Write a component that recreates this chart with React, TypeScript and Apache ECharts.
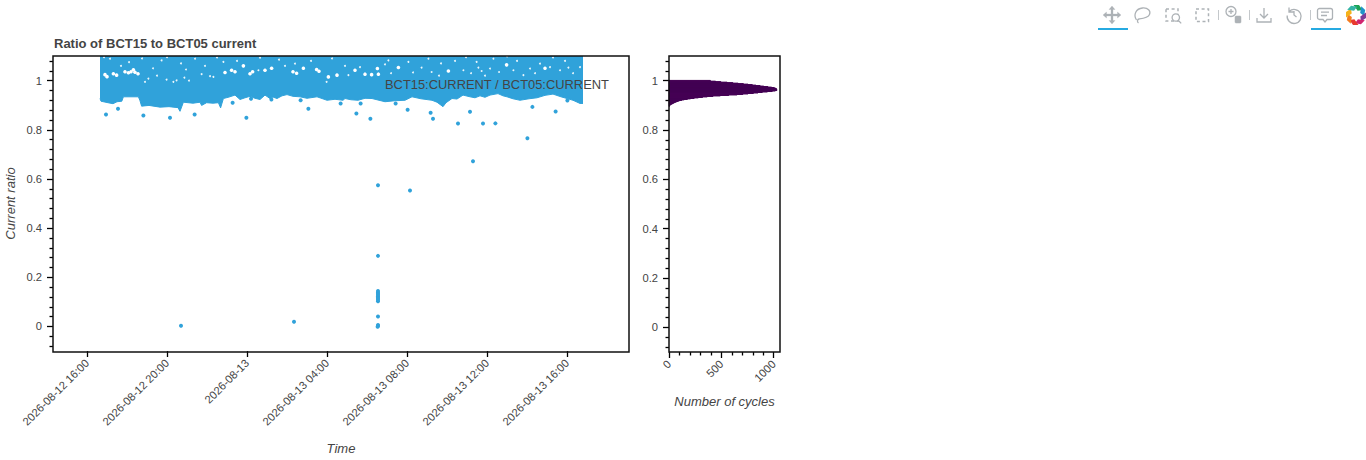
import React, { useEffect, useRef } from "react";
import * as echarts from "echarts";

// x values are hours since 2026-08-12 00:00
const timeTicks = [16, 20, 24, 28, 32, 36, 40];
const timeTickLabels = [
  "2026-08-12 16:00", "2026-08-12 20:00", "2026-08-13", "2026-08-13 04:00",
  "2026-08-13 08:00", "2026-08-13 12:00", "2026-08-13 16:00",
];
const ratioTicks = [0, 0.2, 0.4, 0.6, 0.8, 1];
const ratioMinorTicks = [-0.08, -0.04, 0.04, 0.08, 0.12, 0.16, 0.24, 0.28, 0.32, 0.36, 0.44, 0.48, 0.52, 0.56, 0.64, 0.68, 0.72, 0.76, 0.84, 0.88, 0.92, 0.96, 1.04, 1.08];
const cycleTicks = [0, 500, 1000];
const cycleMinorTicks = [100, 200, 300, 400, 600, 700, 800, 900];

// lower edge of the dense cloud of points: [hour, ratio]
const cloudLowerEdge = [
  [16.65, 0.927], [16.7, 0.916], [17.05, 0.91], [17.3, 0.906], [17.5, 0.914], [17.74, 0.916], [17.82, 0.934], [18.57, 0.934], [18.65, 0.918], [18.73, 0.896], [19.1, 0.899], [19.65, 0.892],
  [20.1, 0.894], [20.55, 0.89], [20.65, 0.875], [20.82, 0.912], [21.3, 0.908], [21.65, 0.912], [21.73, 0.899], [21.98, 0.91], [22.3, 0.908], [22.57, 0.91],
  [22.68, 0.889], [22.82, 0.927], [23.1, 0.933], [23.4, 0.941], [23.65, 0.923], [23.9, 0.93], [24.15, 0.936], [24.4, 0.928], [24.65, 0.923], [24.9, 0.941],
  [25.15, 0.927], [25.3, 0.933], [25.5, 0.927], [25.75, 0.938], [26, 0.943], [26.3, 0.936], [26.65, 0.934], [27, 0.928], [27.5, 0.934], [28, 0.92], [28.4, 0.924], [28.8, 0.92], [28.9, 0.927],
  [29.2, 0.922], [29.55, 0.92], [29.9, 0.928], [30.25, 0.927], [30.6, 0.92], [30.9, 0.914], [31.4, 0.918], [31.9, 0.92], [32.25, 0.934], [32.7, 0.926], [33.25, 0.92], [33.5, 0.912], [33.8, 0.894], [33.95, 0.91],
  [34.25, 0.927], [34.5, 0.925], [34.8, 0.941], [35.15, 0.934], [35.4, 0.93], [35.65, 0.938], [35.9, 0.932], [36.15, 0.941], [36.55, 0.947], [36.8, 0.938], [37, 0.934], [37.3, 0.926],
  [37.65, 0.92], [38.1, 0.926], [38.5, 0.93], [38.9, 0.94], [39.3, 0.945], [39.7, 0.934], [40, 0.927], [40.3, 0.92], [40.65, 0.907], [40.8, 0.907],
];

// larger holes in the cloud, where several points are missing: [hour, ratio]
const cloudHoles = [
  [16.9, 1.024], [17.0, 1.016], [17.32, 1.028], [17.48, 1.022], [17.9, 1.036], [18.07, 1.032], [18.2, 1.036], [18.32, 1.044], [18.4, 1.034], [18.55, 1.028],
  [23.23, 1.042], [23.4, 1.036], [22.9, 1.033], [23.82, 1.06], [24.15, 1.028], [24.28, 1.036], [24.9, 1.042], [25.23, 1.05],
  [26.3, 1.036], [26.48, 1.03], [26.82, 1.05], [27.48, 1.045], [27.6, 1.038], [28.07, 1.015], [28.5, 1.022],
  [29.4, 1.042], [29.9, 1.026], [30.23, 1.024], [30.52, 1.049], [30.57, 1.026], [31.57, 1.053], [34.07, 1.039],
  [36.98, 1.064], [38.9, 1.05],
];

// small holes between single points: [hour, ratio]
const cloudGaps = [
  [19.07, 1.008], [19.98, 1.004], [20.48, 1.001], [20.87, 1.012], [21.73, 1.026], [22.15, 1.018], [22.32, 1.015], [17.15, 1.089], [19.73, 1.082], [21.4, 1.089],
  [18.9, 0.995], [20.32, 0.995], [24.57, 1.042], [26.4, 1.069], [24.65, 1.093], [22.82, 1.076], [27.98, 0.995], [29.07, 1.022], [32.73, 1.053], [33.07, 1.089],
  [32.07, 1.076], [34.82, 1.042], [31.07, 1.082], [29.65, 1.055], [33.23, 1.035], [35.57, 1.053], [35.73, 1.039], [36.15, 1.049], [37.32, 1.042], [38.15, 1.049],
  [39.15, 1.055], [40.07, 1.053], [39.65, 1.042], [40.65, 1.055], [35.48, 1.076], [36.32, 1.089], [37.82, 1.022], [38.65, 1.069], [18.1, 1.075], [20.7, 1.07],
  [21.9, 1.06], [25.6, 1.085], [27.2, 1.08], [30.9, 1.066], [33.7, 1.07], [34.4, 1.08], [37.5, 1.08], [39.9, 1.08], [16.85, 1.095], [17.7, 1.06], [18.75, 1.09],
  [19.3, 1.05], [20.0, 1.095], [20.95, 1.045], [22.5, 1.094], [23.5, 1.08], [25.9, 1.06], [28.25, 1.09], [28.9, 1.06], [31.2, 1.03], [32.3, 1.033], [33.6, 1.02],
  [34.95, 1.095], [35.9, 1.02], [36.6, 1.035], [37.0, 1.098], [38.4, 1.03], [39.3, 1.094], [40.3, 1.03], [19.5, 1.02], [21.1, 1.0], [35.2, 1.03],
];

// isolated points below the cloud: [hour, ratio]
const outliers = [
  [16.95, 0.862], [17.55, 0.885], [18.82, 0.858], [20.15, 0.849], [21.38, 0.862], [23.28, 0.91], [23.97, 0.849], [24.2, 0.926],
  [25.22, 0.923], [26.68, 0.92], [27.07, 0.885], [28.68, 0.907], [29.68, 0.907], [29.47, 0.866], [30.17, 0.845], [31.43, 0.907],
  [32.03, 0.881], [33.18, 0.869], [33.3, 0.845], [34.55, 0.825], [35.15, 0.873], [35.8, 0.825], [36.42, 0.826], [38.27, 0.893],
  [39.43, 0.874], [38.02, 0.765], [40.02, 0.919], [35.3, 0.672], [30.55, 0.574], [32.15, 0.553], [30.55, 0.287],
  [30.55, 0.102], [30.55, 0.108], [30.55, 0.113], [30.55, 0.118], [30.55, 0.123], [30.55, 0.128], [30.55, 0.133], [30.55, 0.138], [30.55, 0.144],
  [30.55, 0.04], [30.55, 0.006], [30.55, 0.002], [30.53, -0.001], [20.7, 0.003], [26.35, 0.019],
];

// histogram: [bin start, bin end, cycles]
const histogramBins = [
  [0.896, 0.898, 3], [0.898, 0.9, 7], [0.9, 0.902, 10], [0.902, 0.904, 16], [0.904, 0.906, 24], [0.906, 0.908, 35], [0.908, 0.91, 42], [0.91, 0.912, 52],
  [0.912, 0.914, 62], [0.914, 0.916, 75], [0.916, 0.918, 88], [0.918, 0.92, 100], [0.92, 0.922, 122], [0.922, 0.924, 145], [0.924, 0.926, 175], [0.926, 0.928, 205],
  [0.928, 0.93, 240], [0.93, 0.932, 280], [0.932, 0.934, 320], [0.934, 0.936, 365], [0.936, 0.938, 420], [0.938, 0.94, 490], [0.94, 0.942, 570], [0.942, 0.944, 650],
  [0.944, 0.946, 705], [0.946, 0.948, 755], [0.948, 0.95, 805], [0.95, 0.952, 850], [0.952, 0.954, 890], [0.954, 0.956, 940], [0.956, 0.958, 985], [0.958, 0.96, 1015],
  [0.96, 0.962, 1030], [0.962, 0.964, 1028], [0.964, 0.966, 1030], [0.966, 0.968, 1025], [0.968, 0.97, 1018], [0.97, 0.972, 1005], [0.972, 0.974, 980], [0.974, 0.976, 945],
  [0.976, 0.978, 905], [0.978, 0.98, 870], [0.98, 0.982, 830], [0.982, 0.984, 795], [0.984, 0.986, 755], [0.986, 0.988, 710], [0.988, 0.99, 660], [0.99, 0.992, 610],
  [0.992, 0.994, 555], [0.994, 0.996, 495], [0.996, 0.998, 445], [0.998, 1.001, 395],
];

const BLUE = "#30a2da";
const PURPLE = "#440154";
const TEXT = "#444444";
const ICON = "#adb2b6";
const FONT = '"Liberation Sans", Helvetica, Arial, sans-serif';
const TICK_STYLE = { color: "#000", width: 1.3 };

const shapes: Record<string, string> = {
  tbPan: "M10 1 L13 4.5 H11 V9 H15.5 V7 L19 10 L15.5 13 V11 H11 V15.5 H13 L10 19 L7 15.5 H9 V11 H4.5 V13 L1 10 L4.5 7 V9 H9 V4.5 H7 Z",
  tbLasso: "M4.5 15 C1 10 4 3.5 10.5 3 C16 2.5 19 6 17.5 9.5 C16 13 11 13.5 7 14 C5 14.5 5 17 6.5 18",
  tbSave: "M10 3 V13 M6 9 L10 13 L14 9 M3 13 V17 H17 V13",
  tbReset: "M5 2.5 V7 H9.5 M5.2 6.5 A7 7 0 1 1 3.2 10.5 M10 6 V10 L12.5 12",
  tbHover: "M4.5 3.5 H15.5 A2 2 0 0 1 17.5 5.5 V12.5 A2 2 0 0 1 15.5 14.5 H12 L10 17 L8 14.5 H4.5 A2 2 0 0 1 2.5 12.5 V5.5 A2 2 0 0 1 4.5 3.5 Z M6 7.2 H14 M6 10.5 H12",
  tbLens: "M17.2 18.4 L14 15 M15.5 12.5 A3.7 3.7 0 1 1 8.1 12.5 A3.7 3.7 0 1 1 15.5 12.5 Z",
  tbWheel: "M3 7.5 A5 5 0 1 1 13 7.5 A5 5 0 1 1 3 7.5 Z M8 5 V10 M5.5 7.5 H10.5",
  tbMouse: "M13 12 H17 A1 1 0 0 1 18 13 V18 A1 1 0 0 1 17 19 H13 A1 1 0 0 1 12 18 V13 A1 1 0 0 1 13 12 Z",
};
Object.entries(shapes).forEach(([name, d]) => {
  echarts.graphic.registerShape(name, echarts.graphic.extendPath(d as any, {}) as any);
});

function icon(name: string, cx: number, fill = false) {
  return {
    type: name, x: cx - 10, y: 5, z: 200, silent: true,
    style: fill ? { fill: ICON, stroke: ICON, lineWidth: 0.3 } : { fill: "none", stroke: ICON, lineWidth: 1.3 },
  };
}

const logoColors = ["#1ca355", "#1f93c9", "#7d3c98", "#d0246f", "#e83a2e", "#f47c20", "#f5b21a", "#35b5a5"];

function toolbar() {
  const dashed = { fill: "none", stroke: ICON, lineWidth: 1.5, lineDash: [3, 2.6] };
  const sep = (x: number) => ({ type: "line", z: 200, silent: true, shape: { x1: x, y1: 10, x2: x, y2: 20 }, style: { stroke: "#c4c8cb", lineWidth: 1 } });
  const bar = (x: number) => ({ type: "rect", z: 200, silent: true, shape: { x, y: 28, width: 30, height: 2 }, style: { fill: "#26aae1" } });
  const logo = logoColors.map((fill, i) => ({
    type: "polygon", z: 200, silent: true, x: 1356, y: 15, rotation: (-i * Math.PI) / 4,
    shape: { points: [[-2.5, -10], [3, -10], [6.5, -5], [1.6, -4.3]] }, style: { fill },
  }));
  return [
    icon("tbPan", 1112, true),
    icon("tbLasso", 1142),
    { type: "rect", z: 200, silent: true, shape: { x: 1166, y: 9, width: 12, height: 12 }, style: dashed },
    { type: "tbLens", x: 1164, y: 5, z: 200, silent: true, style: { fill: "#fff", stroke: ICON, lineWidth: 1.3 } },
    { type: "rect", z: 200, silent: true, shape: { x: 1196, y: 9, width: 12.5, height: 12.5 }, style: dashed },
    sep(1218.5),
    { type: "tbWheel", x: 1223, y: 4, z: 200, silent: true, style: { fill: "none", stroke: ICON, lineWidth: 1.3 } },
    { type: "tbMouse", x: 1223, y: 4, z: 200, silent: true, style: { fill: ICON, stroke: ICON, lineWidth: 0.5 } },
    sep(1249.5),
    icon("tbSave", 1264),
    icon("tbReset", 1294),
    sep(1310.5),
    icon("tbHover", 1325),
    bar(1098),
    bar(1311),
    ...logo,
  ];
}

const frame = (x: number, width: number) => ({
  type: "rect", z: 100, silent: true,
  shape: { x, y: 56, width, height: 296 },
  style: { fill: "none", stroke: "#111", lineWidth: 1.5 },
});

const LABEL = { color: TEXT, fontSize: 11.2, fontFamily: FONT };

const majorAxis = (extra: any, ticks: number[], label: any) => ({
  type: "value",
  axisLine: { show: false, onZero: false },
  splitLine: { show: false },
  axisTick: { show: true, length: 6, customValues: ticks, lineStyle: TICK_STYLE },
  axisLabel: { ...LABEL, customValues: ticks, ...label },
  nameTextStyle: { color: TEXT, fontSize: 13, fontStyle: "italic", fontFamily: FONT },
  ...extra,
});

const minorAxis = (extra: any, values: number[]) => ({
  type: "value",
  axisLine: { show: false, onZero: false },
  splitLine: { show: false },
  axisLabel: { show: false },
  axisTick: { show: true, length: 3.5, customValues: values, lineStyle: TICK_STYLE },
  ...extra,
});

export default function App() {
  const ref = useRef<HTMLDivElement>(null);
  useEffect(() => {
    const chart = echarts.init(ref.current!, undefined, { renderer: "svg" });
    const timeRange = { min: 14.3, max: 43.1 };
    const ratioRange = { min: -0.1, max: 1.1 };
    const cycleRange = { min: 0, max: 1060 };
    const yLabel = { margin: 11, padding: [2, 0, 0, 0] };
    chart.setOption({
      animation: false,
      backgroundColor: "#fff",
      title: {
        text: "Ratio of BCT15 to BCT05 current", left: 54, top: 37, padding: 0,
        textStyle: { color: TEXT, fontSize: 13, fontWeight: "bold", fontFamily: FONT },
      },
      grid: [
        { left: 53, top: 56, width: 576, height: 296 },
        { left: 669, top: 56, width: 111, height: 296 },
      ],
      xAxis: [
        majorAxis(
          { gridIndex: 0, position: "bottom", ...timeRange, name: "Time", nameLocation: "middle", nameGap: 91 },
          timeTicks,
          { rotate: 45, margin: 10, formatter: (v: number) => timeTickLabels[timeTicks.indexOf(v)] ?? "" },
        ),
        majorAxis(
          { gridIndex: 1, position: "bottom", ...cycleRange, name: "Number of cycles", nameLocation: "middle", nameGap: 43 },
          cycleTicks,
          { rotate: 45, margin: 10, formatter: (v: number) => String(v) },
        ),
        minorAxis({ gridIndex: 1, position: "bottom", ...cycleRange }, cycleMinorTicks),
      ],
      yAxis: [
        majorAxis(
          { gridIndex: 0, position: "left", ...ratioRange, name: "Current ratio", nameLocation: "middle", nameGap: 36 },
          ratioTicks,
          yLabel,
        ),
        minorAxis({ gridIndex: 0, position: "left", ...ratioRange }, ratioMinorTicks),
        majorAxis({ gridIndex: 1, position: "left", ...ratioRange }, ratioTicks, yLabel),
        minorAxis({ gridIndex: 1, position: "left", ...ratioRange }, ratioMinorTicks),
      ],
      series: [
        {
          type: "line", xAxisIndex: 0, yAxisIndex: 0, data: cloudLowerEdge, showSymbol: false, symbol: "none", z: 2,
          lineStyle: { color: BLUE, width: 1 }, areaStyle: { color: BLUE, opacity: 1, origin: "end" }, silent: true,
        },
        {
          type: "scatter", xAxisIndex: 0, yAxisIndex: 0, data: cloudHoles, symbolSize: 3.6, z: 5,
          itemStyle: { color: "#fff", opacity: 1 }, silent: true,
        },
        {
          type: "scatter", xAxisIndex: 0, yAxisIndex: 0, data: cloudGaps, symbolSize: 1.9, z: 5,
          itemStyle: { color: "#fff", opacity: 0.9 }, silent: true,
        },
        {
          type: "scatter", xAxisIndex: 0, yAxisIndex: 0, data: outliers, symbolSize: 4, z: 6,
          itemStyle: { color: BLUE, opacity: 1 }, silent: true,
        },
        {
          type: "custom", xAxisIndex: 1, yAxisIndex: 2, data: histogramBins, silent: true,
          encode: { x: 2, y: [0, 1] },
          renderItem: (_p: any, api: any) => {
            const a = api.coord([0, api.value(1)]);
            const b = api.coord([api.value(2), api.value(0)]);
            return {
              type: "rect",
              shape: { x: a[0], y: a[1], width: b[0] - a[0], height: b[1] - a[1] },
              style: { fill: PURPLE, stroke: PURPLE, lineWidth: 1 },
            };
          },
        },
      ],
      graphic: [
        frame(53, 576),
        frame(669, 111),
        {
          type: "text", x: 385, y: 84.5, z: 110, silent: true,
          style: { text: "BCT15:CURRENT / BCT05:CURRENT", fill: TEXT, fontSize: 12.9, fontFamily: FONT, verticalAlign: "middle" },
        },
        ...toolbar(),
      ],
    });
    return () => chart.dispose();
  }, []);
  return <div ref={ref} style={{ position: "absolute", left: 0, top: 0, width: 1366, height: 460 }} />;
}
